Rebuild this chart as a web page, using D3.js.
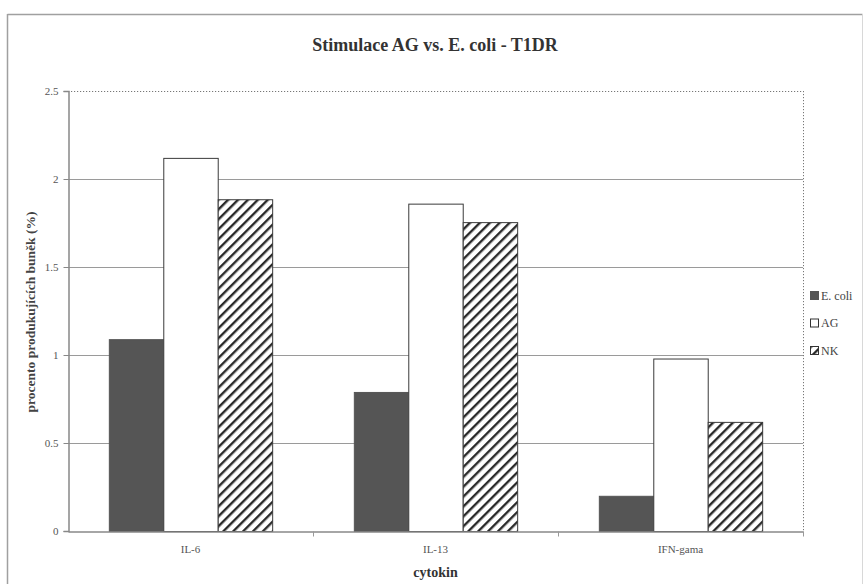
<!DOCTYPE html>
<html>
<head>
<meta charset="utf-8">
<script src="https://cdn.jsdelivr.net/npm/d3@7"></script>
<style>
  html, body { margin: 0; padding: 0; background: #fff; }
  svg { display: block; font-family: "Liberation Serif", "Times New Roman", serif; }
</style>
</head>
<body>
<svg id="chart" width="868" height="584"></svg>
<script>
// Cytokine categories and the three stimulation series (% of producing cells)
const categories = ["IL-6", "IL-13", "IFN-gama"];
const seriesNames = ["E. coli", "AG", "NK"];
const ecoliValues = [1.09, 0.79, 0.20];
const agValues = [2.12, 1.86, 0.98];
const nkValues = [1.885, 1.755, 0.62];
const yTicks = [0, 0.5, 1, 1.5, 2, 2.5];

const seriesValues = [ecoliValues, agValues, nkValues];

const svg = d3.select("#chart");
const W = 868, H = 584;
const margin = { left: 68, right: 65, top: 91, bottom: 53 };
const plotW = W - margin.left - margin.right;   // 735
const plotH = H - margin.top - margin.bottom;   // 440

// hatch pattern for the NK series
const defs = svg.append("defs");
const pat = defs.append("pattern")
  .attr("id", "hatch")
  .attr("patternUnits", "userSpaceOnUse")
  .attr("width", 7).attr("height", 7)
  .attr("patternTransform", "rotate(45)");
pat.append("rect").attr("width", 7).attr("height", 7).attr("fill", "#fff");
pat.append("rect").attr("x", 0).attr("y", 0).attr("width", 2.4).attr("height", 7).attr("fill", "#2a2a2a");

const fills = ["#555555", "#ffffff", "url(#hatch)"];
const strokes = ["#555555", "#3a3a3a", "#3a3a3a"];

// outer frame of the chart
svg.append("line").attr("x1", 7.5).attr("x2", 862.5).attr("y1", 14.5).attr("y2", 14.5)
  .attr("stroke", "#a0a0a0").attr("stroke-width", 1.5);
svg.append("line").attr("x1", 7.5).attr("x2", 7.5).attr("y1", 14).attr("y2", 584)
  .attr("stroke", "#a0a0a0").attr("stroke-width", 1.5);
svg.append("line").attr("x1", 862.5).attr("x2", 862.5).attr("y1", 14).attr("y2", 584)
  .attr("stroke", "#d8d8d8").attr("stroke-width", 1);

// title
svg.append("text")
  .attr("x", 435).attr("y", 51)
  .attr("text-anchor", "middle")
  .attr("font-weight", "bold").attr("font-size", 18)
  .attr("fill", "#333")
  .text("Stimulace AG vs. E. coli - T1DR");

const g = svg.append("g").attr("transform", `translate(${margin.left},${margin.top})`);

const x0 = d3.scaleBand().domain(categories).range([0, plotW]).paddingInner(0).paddingOuter(0);
// gap width 150% of one bar: 3 bars + 1.5 bar gap
const barW = x0.bandwidth() / 4.5;
const x1 = d3.scaleBand().domain(seriesNames)
  .range([barW * 0.75, barW * 3.75]).padding(0);
const y = d3.scaleLinear().domain([0, 2.5]).range([plotH, 0]);

// gridlines
g.selectAll("line.grid").data(yTicks.filter(t => t > 0 && t < 2.5)).join("line")
  .attr("class", "grid")
  .attr("x1", 0).attr("x2", plotW)
  .attr("y1", d => y(d) + 0.5).attr("y2", d => y(d) + 0.5)
  .attr("stroke", "#9a9a9a").attr("stroke-width", 1);

// dotted plot-area border top and right
g.append("line").attr("x1", 0).attr("x2", plotW).attr("y1", y(2.5) + 0.5).attr("y2", y(2.5) + 0.5)
  .attr("stroke", "#777").attr("stroke-dasharray", "1.2,1.8");
g.append("line").attr("x1", plotW + 0.5).attr("x2", plotW + 0.5).attr("y1", 0).attr("y2", plotH)
  .attr("stroke", "#777").attr("stroke-dasharray", "1.2,1.8");

// bars
const rows = categories.map((c, i) => seriesNames.map((s, k) => ({ cat: c, s, k, v: seriesValues[k][i] })));
g.selectAll("g.group").data(rows).join("g")
  .attr("class", "group")
  .attr("transform", d => `translate(${x0(d[0].cat)},0)`)
  .selectAll("rect").data(d => d).join("rect")
  .attr("x", d => x1(d.s) + 0.5)
  .attr("y", d => y(d.v) + 0.5)
  .attr("width", x1.bandwidth())
  .attr("height", d => y(0) - y(d.v))
  .attr("fill", d => fills[d.k])
  .attr("stroke", d => strokes[d.k])
  .attr("stroke-width", 1);

// y axis
const yAxis = d3.axisLeft(y).tickValues(yTicks).tickFormat(d => String(d)).tickSize(5).tickPadding(5);
const ya = g.append("g").attr("transform", "translate(0.5,0)").call(yAxis);
ya.select(".domain").attr("stroke", "#888").attr("stroke-width", 1.5);
ya.selectAll(".tick line").attr("stroke", "#888");
ya.selectAll(".tick text").attr("font-size", 11).attr("fill", "#555")
  .attr("font-family", "Liberation Serif, serif");

// x axis
const xa = g.append("g").attr("transform", `translate(0,${plotH + 0.5})`)
  .call(d3.axisBottom(x0).tickSize(0).tickPadding(14));
xa.select(".domain").attr("stroke", "#888").attr("stroke-width", 1.5);
xa.selectAll(".tick text").attr("font-size", 11).attr("fill", "#555")
  .attr("font-family", "Liberation Serif, serif");
// category separator ticks
xa.selectAll("line.sep").data(categories.slice(1).concat(["_end"])).join("line")
  .attr("class", "sep")
  .attr("x1", (d, i) => x0.step() * (i + 1) + 0.5)
  .attr("x2", (d, i) => x0.step() * (i + 1) + 0.5)
  .attr("y1", 0).attr("y2", 5)
  .attr("stroke", "#999");

// axis titles
svg.append("text")
  .attr("transform", "translate(35,312) rotate(-90)")
  .attr("text-anchor", "middle")
  .attr("font-weight", "bold").attr("font-size", 13.5)
  .attr("fill", "#444")
  .text("procento produkujících buněk (%)");
svg.append("text")
  .attr("x", margin.left + plotW / 2).attr("y", 577)
  .attr("text-anchor", "middle")
  .attr("font-weight", "bold").attr("font-size", 14)
  .attr("fill", "#333")
  .text("cytokin");

// legend
const legend = svg.append("g").attr("transform", "translate(810,291)");
const li = legend.selectAll("g").data(seriesNames).join("g")
  .attr("transform", (d, i) => `translate(0,${i * 27.5})`);
li.append("rect")
  .attr("x", 0.5).attr("y", 0.5).attr("width", 8).attr("height", 8)
  .attr("fill", (d, i) => fills[i])
  .attr("stroke", (d, i) => i === 0 ? "#555" : "#333");
li.append("text")
  .attr("x", 11).attr("y", 8.5)
  .attr("font-size", 12).attr("fill", "#444")
  .text(d => d);
</script>
</body>
</html>
